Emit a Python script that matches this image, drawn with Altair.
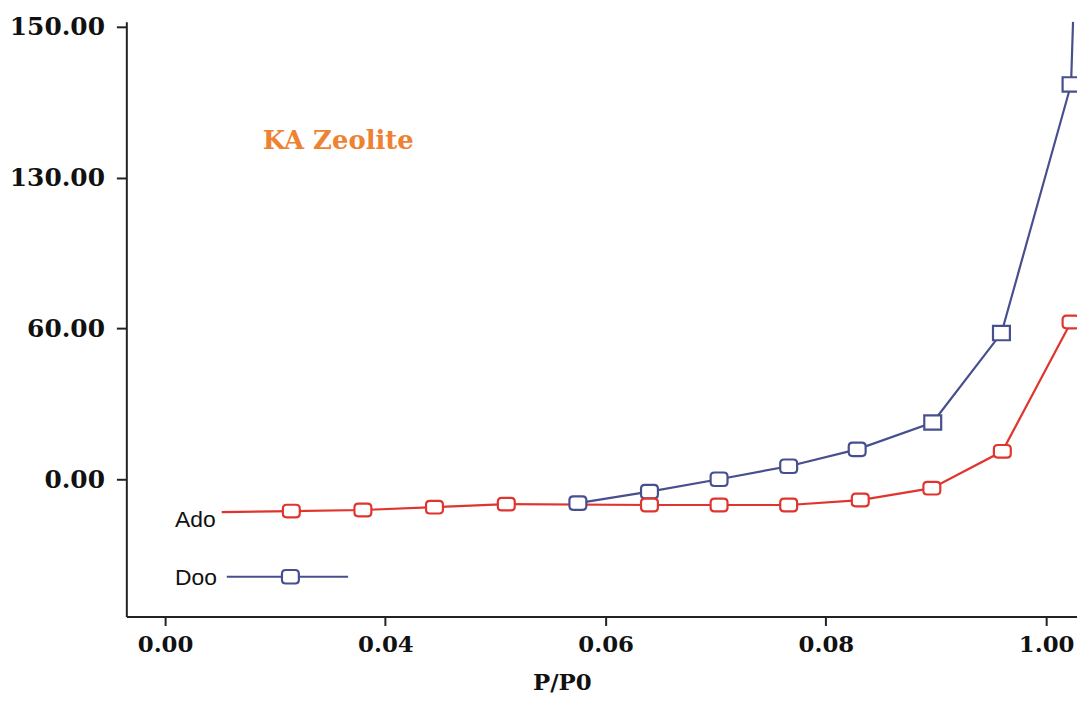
import json
import altair as alt
import pandas as pd

# Tick labels as printed on the (non-linear) axes
x_tick_labels = ["0.00", "0.04", "0.06", "0.08", "1.00"]
y_tick_labels = ["0.00", "60.00", "130.00", "150.00"]

# Series positions, in axis-tick units (tick index)
ado_x = [0.257, 0.573, 0.898, 1.223, 1.549, 2.199, 2.515, 2.831, 3.156, 3.481, 3.801, 4.113]
ado_y = [-0.218, -0.211, -0.204, -0.185, -0.165, -0.171, -0.171, -0.171, -0.138, -0.059, 0.185, 1.042]
doo_x = [1.874, 2.199, 2.515, 2.831, 3.142, 3.485, 3.797, 4.113, 4.122]
doo_y = [-0.158, -0.082, 0.0, 0.086, 0.198, 0.376, 0.969, 2.617, 3.032]

chart_title = ["KA Zeolite"]
legend_labels = ["Ado", "Doo"]
x_title = "P/P0"

RED = "#e0352e"
BLUE = "#474f8f"
ORANGE = "#ee8233"

ado = pd.DataFrame({"x": ado_x, "y": ado_y})
ado["i"] = range(len(ado))
doo = pd.DataFrame({"x": doo_x, "y": doo_y})
doo["i"] = range(len(doo))
n_doo = len(doo)

xlab = json.dumps(x_tick_labels)
ylab = json.dumps(y_tick_labels)

X = alt.X(
    "x:Q",
    scale=alt.Scale(domain=[-0.176, 4.14], nice=False, zero=False),
    axis=alt.Axis(
        values=[0, 1, 2, 3, 4],
        labelExpr=f"{xlab}[datum.value]",
        title=x_title,
        titleFont="DejaVu Serif",
        titleFontWeight="bold",
        titleFontSize=23,
        titleColor="#111",
        titleX=438,
        titleY=73,
        titleBaseline="alphabetic",
        titleAlign="center",
        labelFontSize=23,
        labelPadding=8,
        tickSize=9,
        labelFlush=False,
    ),
)
Y = alt.Y(
    "y:Q",
    scale=alt.Scale(domain=[-0.91, 3.032], nice=False, zero=False),
    axis=alt.Axis(
        values=[0, 1, 2, 3],
        labelExpr=f"{ylab}[datum.value]",
        title=None,
        labelFontSize=25,
        labelPadding=12,
        tickSize=10,
        labelFlush=False,
    ),
)

rounded_red = ("M -0.55 -0.75 L 0.55 -0.75 Q 1 -0.75 1 -0.3 L 1 0.3 Q 1 0.75 0.55 0.75 "
               "L -0.55 0.75 Q -1 0.75 -1 0.3 L -1 -0.3 Q -1 -0.75 -0.55 -0.75 Z")
rounded_blue = ("M -0.55 -0.8 L 0.55 -0.8 Q 1 -0.8 1 -0.35 L 1 0.35 Q 1 0.8 0.55 0.8 "
                "L -0.55 0.8 Q -1 0.8 -1 0.35 L -1 -0.35 Q -1 -0.8 -0.55 -0.8 Z")
square_blue = "M -1 -0.85 L 1 -0.85 L 1 0.85 L -1 0.85 Z"

ado_line = alt.Chart(ado).mark_line(color=RED, strokeWidth=2.2).encode(x=X, y=Y, order="i:Q")
doo_line = alt.Chart(doo).mark_line(color=BLUE, strokeWidth=2.2).encode(x=X, y=Y, order="i:Q")

doo_round = alt.Chart(doo).transform_filter(
    f"datum.i < {n_doo - 1} && datum.x < 3.3"
).mark_point(shape=rounded_blue, size=289, filled=True, fill="white", stroke=BLUE,
             strokeWidth=2.2, opacity=1).encode(x=X, y=Y)
doo_square = alt.Chart(doo).transform_filter(
    f"datum.i < {n_doo - 1} && datum.x >= 3.3"
).mark_point(shape=square_blue, size=289, filled=True, fill="white", stroke=BLUE,
             strokeWidth=2.2, opacity=1).encode(x=X, y=Y)
ado_pts = alt.Chart(ado).transform_filter("datum.i > 0").mark_point(
    shape=rounded_red, size=289, filled=True, fill="white", stroke=RED,
    strokeWidth=2.2, opacity=1).encode(x=X, y=Y)

title_df = pd.DataFrame({"t": chart_title})
title = alt.Chart(title_df).mark_text(
    font="DejaVu Serif", fontWeight="bold", fontSize=26, color=ORANGE,
    align="center", baseline="middle"
).encode(text="t:N", x=alt.value(213), y=alt.value(120))

leg_ado = alt.Chart(pd.DataFrame({"t": legend_labels[:1]})).mark_text(
    font="Liberation Sans", fontSize=23, color="#111", align="left", baseline="middle"
).encode(text="t:N", x=alt.value(49), y=alt.value(501))
leg_doo = alt.Chart(pd.DataFrame({"t": legend_labels[1:]})).mark_text(
    font="Liberation Sans", fontSize=23, color="#111", align="left", baseline="middle"
).encode(text="t:N", x=alt.value(49), y=alt.value(559))

leg_rule = alt.Chart(pd.DataFrame({"t": legend_labels[1:]})).mark_rule(
    color=BLUE, strokeWidth=2.2).encode(x=alt.value(101), x2=alt.value(223), y=alt.value(558))
leg_pt = alt.Chart(pd.DataFrame({"t": legend_labels[1:]})).mark_point(
    shape=rounded_blue, size=289, filled=True, fill="white", stroke=BLUE,
    strokeWidth=2.2, opacity=1).encode(x=alt.value(165), y=alt.value(558))

chart = alt.layer(
    ado_line, doo_line, doo_round, doo_square, ado_pts, title, leg_ado, leg_doo, leg_rule, leg_pt
).properties(
    width=956, height=598,
    autosize=alt.AutoSizeParams(type="none"),
    padding={"left": 119, "top": 12, "right": 0, "bottom": 76},
    background="white",
).configure_view(stroke=None).configure_axis(
    grid=False, domainColor="#222", domainWidth=2, tickColor="#222", tickWidth=2,
    labelFont="DejaVu Serif", labelFontWeight="bold", labelColor="#111",
)

chart.save("out.html", embed_options={"renderer": "svg", "actions": False})
